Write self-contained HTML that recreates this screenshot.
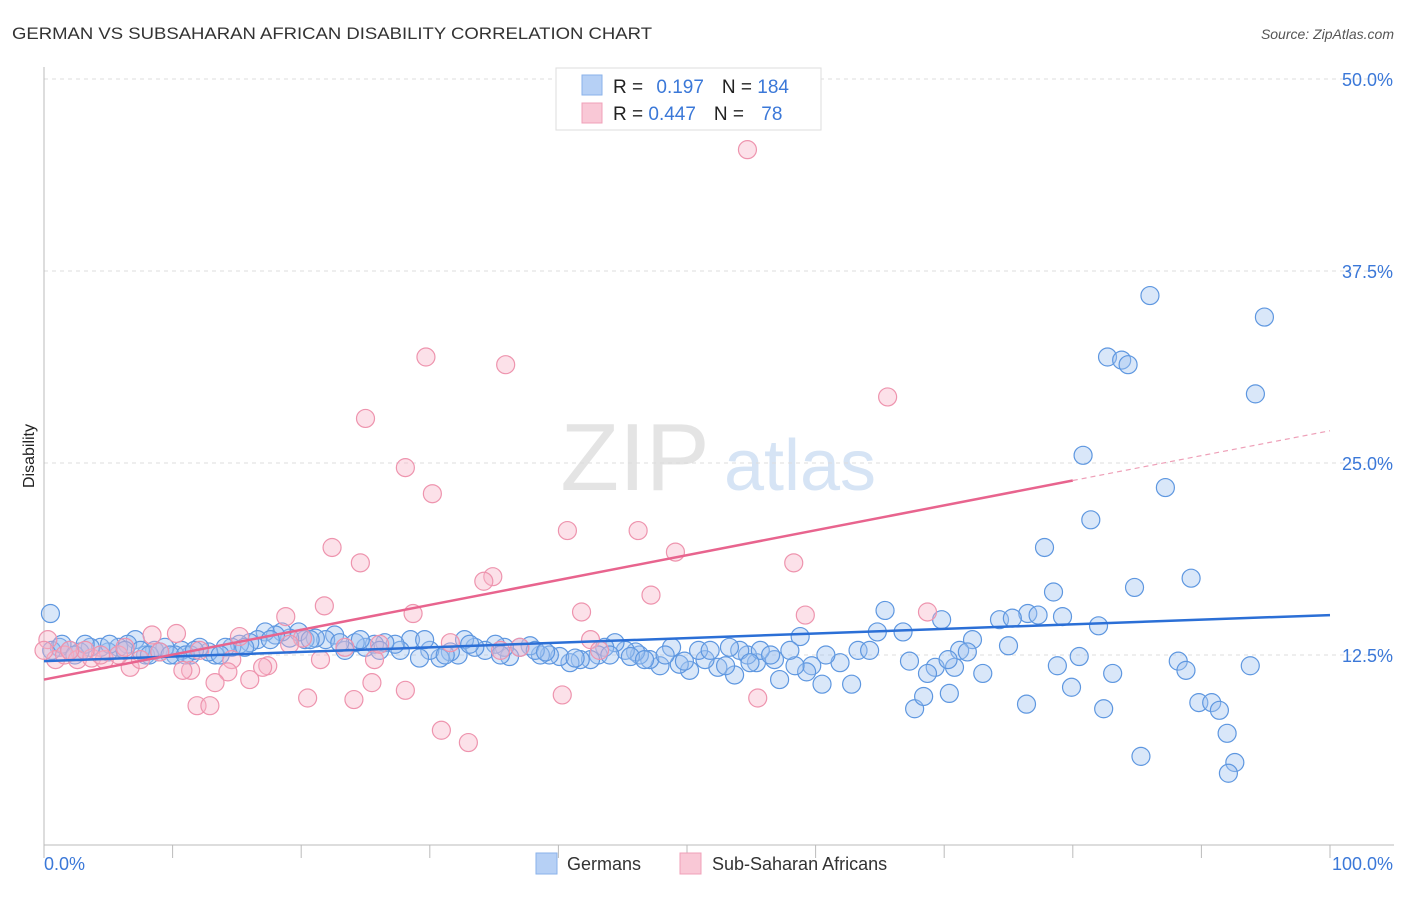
<!DOCTYPE html>
<html><head><meta charset="utf-8"><style>
body{margin:0;background:#fff;font-family:"Liberation Sans",sans-serif}
svg text{font-family:"Liberation Sans",sans-serif}
</style></head><body>
<svg id="chart" width="1406" height="892">
<text x="12" y="39" font-size="17" fill="#333" textLength="640" lengthAdjust="spacingAndGlyphs">GERMAN VS SUBSAHARAN AFRICAN DISABILITY CORRELATION CHART</text>
<text x="1394" y="39" font-size="14" fill="#555" font-style="italic" text-anchor="end">Source: ZipAtlas.com</text>
<text x="34" y="456" font-size="16" fill="#222" transform="rotate(-90 34 456)" text-anchor="middle">Disability</text>
<g><text x="635" y="490" font-size="96" fill="#e4e4e4" font-family="Liberation Serif" text-anchor="middle">ZIP</text><text x="800" y="490" font-size="72" fill="#d6e4f5" text-anchor="middle">atlas</text></g>
<g id="grid"></g><g id="axes"></g><g id="marks"></g><g id="trends"></g>
<g>
<rect x="556" y="68" width="265" height="62" fill="#fff" stroke="#ddd"/>
<rect x="582" y="75" width="20" height="20" fill="#b6d0f5" stroke="#8ab2ea"/>
<rect x="582" y="103" width="20" height="20" fill="#f9c8d6" stroke="#f0a0b8"/>
<text x="613" y="93" font-size="19" fill="#222">R = <tspan fill="#3b78d8" dx="8">0.197</tspan><tspan dx="18" fill="#222">N = </tspan><tspan fill="#3b78d8">184</tspan></text>
<text x="613" y="120" font-size="19" fill="#222">R = <tspan fill="#3b78d8">0.447</tspan><tspan dx="18" fill="#222">N = </tspan><tspan fill="#3b78d8" dx="12">78</tspan></text>
</g>
<g>
<rect x="536" y="853" width="21" height="21" fill="#b6d0f5" stroke="#8ab2ea"/>
<text x="567" y="870" font-size="18" fill="#333">Germans</text>
<rect x="680" y="853" width="21" height="21" fill="#f9c8d6" stroke="#f0a0b8"/>
<text x="712" y="870" font-size="18" fill="#333">Sub-Saharan Africans</text>
</g>
</svg>
<script>
const yTicks=[12.5,25,37.5,50];
const yTickLabels=["12.5%","25.0%","37.5%","50.0%"];
const xTickLabels=["0.0%","100.0%"];
const blueX=[86.0,94.9,82.7,83.8,84.3,94.2,80.8,87.2,81.4,77.8,89.2,84.8,78.5,65.4,76.5,74.3,75.3,77.3,79.2,82.0,69.8,64.8,66.8,58.8,72.2,75.0,71.2,71.8,80.5,78.8,88.2,88.8,93.8,83.1,79.9,82.4,76.4,89.8,90.8,91.4,67.7,68.4,70.4,92.0,85.3,92.6,92.1,67.3,69.3,68.7,70.8,73.0,70.3,63.3,64.2,61.9,60.8,59.7,59.3,58.4,57.2,60.5,62.8,56.8,55.4,54.7,55.7,56.5,54.1,53.3,53.7,52.4,51.4,50.9,50.2,49.4,48.8,47.9,47.1,46.3,46.0,45.2,44.4,43.6,43.1,42.5,41.7,40.9,40.1,39.3,38.6,37.8,37.0,36.2,35.8,35.1,34.3,33.5,32.7,32.2,31.6,30.8,30.0,29.2,28.5,27.7,27.3,26.5,25.7,25.0,24.2,23.4,22.6,21.9,21.1,20.3,19.8,19.1,18.5,18.0,17.2,16.6,16.0,15.2,14.6,14.1,13.3,12.8,12.1,11.4,10.7,10.2,9.4,8.6,7.9,7.1,6.5,5.8,5.0,4.4,3.6,2.8,2.0,1.2,0.6,0.5,1.4,2.4,3.2,5.1,6.3,7.5,8.2,9.0,9.8,11.0,11.7,13.7,15.6,17.6,20.7,23.0,24.6,26.1,29.6,31.2,33.1,35.5,38.2,39.0,41.3,44.0,45.6,46.7,48.3,49.8,51.8,53.0,54.9,58.0];
const blueY=[35.9,34.5,31.9,31.7,31.4,29.5,25.5,23.4,21.3,19.5,17.5,16.9,16.6,15.4,15.2,14.8,14.9,15.1,15.0,14.4,14.8,14.0,14.0,13.7,13.5,13.1,12.8,12.7,12.4,11.8,12.1,11.5,11.8,11.3,10.4,9.0,9.3,9.4,9.4,8.9,9.0,9.8,10.0,7.4,5.9,5.5,4.8,12.1,11.7,11.3,11.7,11.3,12.2,12.8,12.8,12.0,12.5,11.8,11.4,11.8,10.9,10.6,10.6,12.2,12.0,12.5,12.8,12.5,12.8,13.0,11.2,11.7,12.2,12.8,11.5,11.9,13.0,11.8,12.2,12.5,12.7,12.8,13.3,13.0,12.5,12.2,12.2,12.0,12.4,12.5,12.5,13.1,13.0,12.4,13.0,13.2,12.8,13.0,13.5,12.5,12.7,12.3,12.8,12.3,13.5,12.8,13.2,13.3,13.2,13.0,13.3,12.8,13.8,13.5,13.6,13.5,14.0,13.6,14.0,13.8,14.0,13.5,13.3,13.2,13.0,13.0,12.5,12.7,13.0,12.5,12.8,12.5,13.0,12.8,12.5,13.5,13.2,13.0,12.7,13.0,13.0,12.7,12.8,13.0,12.8,15.2,13.2,12.5,13.2,13.2,12.8,12.8,12.5,12.7,12.5,12.5,12.8,12.5,13.0,13.5,13.5,13.3,13.5,12.8,13.5,12.5,13.2,12.5,12.8,12.7,12.3,12.5,12.4,12.2,12.5,12.1,12.8,11.8,12.0,12.8];
const pinkX=[54.7,29.7,35.9,25.0,65.6,28.1,30.2,22.4,24.6,40.7,46.2,49.1,58.3,34.9,34.2,47.2,28.7,41.8,59.2,68.7,18.8,21.8,15.2,10.3,8.4,20.1,31.6,42.5,43.2,14.6,17.4,17.0,21.5,25.7,14.3,11.4,10.8,6.7,13.3,16.0,25.5,28.1,20.5,24.1,40.3,55.5,11.9,12.9,30.9,33.0,0.3,0.9,1.6,2.6,3.7,4.7,5.8,7.5,9.0,6.3,4.4,3.2,2.0,12.1,19.1,23.4,26.1,35.5,37.0,0.0];
const pinkY=[45.4,31.9,31.4,27.9,29.3,24.7,23.0,19.5,18.5,20.6,20.6,19.2,18.5,17.6,17.3,16.4,15.2,15.3,15.1,15.3,15.0,15.7,13.7,13.9,13.8,13.6,13.3,13.5,12.8,12.2,11.8,11.7,12.2,12.2,11.4,11.5,11.5,11.7,10.7,10.9,10.7,10.2,9.7,9.6,9.9,9.7,9.2,9.2,7.6,6.8,13.5,12.2,12.5,12.2,12.3,12.2,12.5,12.2,12.7,13.0,12.5,12.8,12.8,12.8,13.2,13.0,13.2,12.8,13.0,12.8];
const blueTrend=[12.1,15.1];
const pinkTrend=[10.9,27.1];
const pinkSolidEnd=80;
const NS="http://www.w3.org/2000/svg";
const X0=44,X1=1330,Y0=847,PXPER=15.36;
const sx=v=>X0+(X1-X0)*v/100, sy=v=>Y0-v*PXPER;
function mk(tag,attrs,parent){const e=document.createElementNS(NS,tag);for(const k in attrs)e.setAttribute(k,attrs[k]);parent.appendChild(e);return e;}
const grid=document.getElementById('grid'),axes=document.getElementById('axes'),marks=document.getElementById('marks'),trends=document.getElementById('trends');
yTicks.forEach((t,i)=>{
 const l=mk('line',{x1:X0,x2:1394,y1:sy(t),y2:sy(t),stroke:'#ddd','stroke-dasharray':'4,4'},grid);
 
 
 const tx=mk('text',{x:1393,y:sy(t)+7,'font-size':18,fill:'#3b78d8','text-anchor':'end'},grid);
 tx.textContent=yTickLabels[i];
 
 
});
const ax=mk('line',{x1:X0,x2:X0,y1:67,y2:845,stroke:'#bbb'},axes);


const bx=mk('line',{x1:X0,x2:1394,y1:845,y2:845,stroke:'#bbb'},axes);


for(let i=0;i<=10;i++){const t=mk('line',{x1:sx(i*10),x2:sx(i*10),y1:845,y2:858,stroke:'#bbb'},axes);
 
 }
[[0,'start',44],[1,'end',1393]].forEach(([i,a,x])=>{const t=mk('text',{x:x,y:870,'font-size':18,fill:'#3b78d8','text-anchor':a},axes);t.textContent=xTickLabels[i];
 
 });
blueX.forEach((x,i)=>{const c=mk('circle',{cx:sx(x),cy:sy(blueY[i]),r:9,fill:'rgba(160,196,240,0.4)',stroke:'#5e97e0','stroke-width':1.2},marks);
 
 });
pinkX.forEach((x,i)=>{const c=mk('circle',{cx:sx(x),cy:sy(pinkY[i]),r:9,fill:'rgba(248,180,200,0.4)',stroke:'#ee94ae','stroke-width':1.2},marks);
 
 });
const bl=mk('line',{x1:sx(0),y1:sy(blueTrend[0]),x2:sx(100),y2:sy(blueTrend[1]),stroke:'#2b6fd6','stroke-width':2.5},trends);


const py=x=>pinkTrend[0]+(pinkTrend[1]-pinkTrend[0])*x/100;
const pl=mk('line',{x1:sx(0),y1:sy(py(0)),x2:sx(pinkSolidEnd),y2:sy(py(pinkSolidEnd)),stroke:'#e8648e','stroke-width':2.5},trends);


const pd=mk('line',{x1:sx(pinkSolidEnd),y1:sy(py(pinkSolidEnd)),x2:sx(100),y2:sy(py(100)),stroke:'#eea0b8','stroke-width':1.2,'stroke-dasharray':'5,4'},trends);


</script>
</body></html>
